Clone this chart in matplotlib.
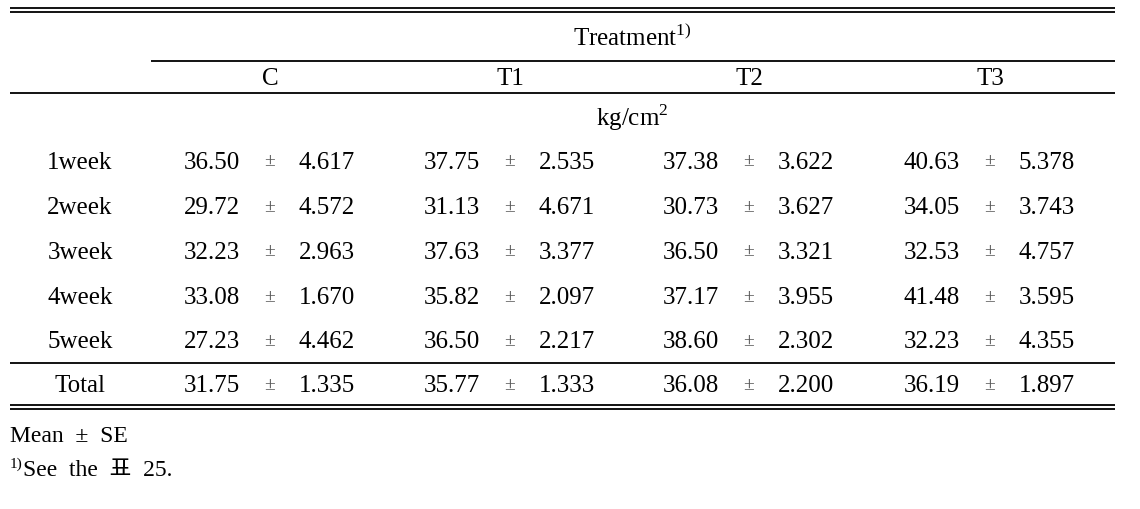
import matplotlib.pyplot as plt

rows = ["1week", "2week", "3week", "4week", "5week", "Total"]
groups = ["C", "T1", "T2", "T3"]
means = {
    "C":  [36.50, 29.72, 32.23, 33.08, 27.23, 31.75],
    "T1": [37.75, 31.13, 37.63, 35.82, 36.50, 35.77],
    "T2": [37.38, 30.73, 36.50, 37.17, 38.60, 36.08],
    "T3": [40.63, 34.05, 32.53, 41.48, 32.23, 36.19],
}
ses = {
    "C":  [4.617, 4.572, 2.963, 1.670, 4.462, 1.335],
    "T1": [2.535, 4.671, 3.377, 2.097, 2.217, 1.333],
    "T2": [3.622, 3.627, 3.321, 3.955, 2.302, 2.200],
    "T3": [5.378, 3.743, 4.757, 3.595, 4.355, 1.897],
}

plt.rcParams['font.family'] = ['Liberation Serif', 'Noto Sans CJK KR']
fs = 18

fig = plt.figure(figsize=(11.4, 5.09), dpi=100)
ax = fig.add_axes([0, 0, 1, 1])
ax.set_xlim(0, 1140)
ax.set_ylim(509, 0)
ax.axis('off')

x0, x1 = 10, 1115
lw = 1.3
# rules
ax.hlines([8, 11.5], x0, x1, color='black', lw=lw)
ax.hlines(61, 151, x1, color='black', lw=lw)
ax.hlines(93, x0, x1, color='black', lw=lw)
ax.hlines(363, x0, x1, color='black', lw=lw)
ax.hlines([405, 408.5], x0, x1, color='black', lw=lw)

col_x = [270, 510, 749, 990]
row_y = [162, 207, 252, 297, 341, 385]

ax.text(632, 38, r"Treatment$^{\mathregular{1)}}$", ha='center', va='center', fontsize=fs)
for g, cx in zip(groups, col_x):
    ax.text(cx, 79, g, ha='center', va='center', fontsize=fs)
ax.text(632, 118, r"kg/cm$^{\mathregular{2}}$", ha='center', va='center', fontsize=fs)

for r, ry in zip(range(len(rows)), row_y):
    ax.text(80, ry + 1, rows[r], ha='center', va='center', fontsize=fs)
    for g, cx in zip(groups, col_x):
        ax.text(cx - 58, ry + 1, f"{means[g][r]:.2f}", ha='center', va='center', fontsize=fs)
        ax.text(cx, ry, "±", ha='center', va='center', fontsize=14, color='#555555')
        ax.text(cx + 57, ry + 1, f"{ses[g][r]:.3f}", ha='center', va='center', fontsize=fs)

ax.text(10, 436, "Mean  ±  SE", ha='left', va='center', fontsize=17)
ax.text(10, 464, "1)", ha='left', va='center', fontsize=11)
ax.text(23, 471, "See  the  표  25.", ha='left', va='center', fontsize=17)

fig.savefig("out.png", dpi=100)
